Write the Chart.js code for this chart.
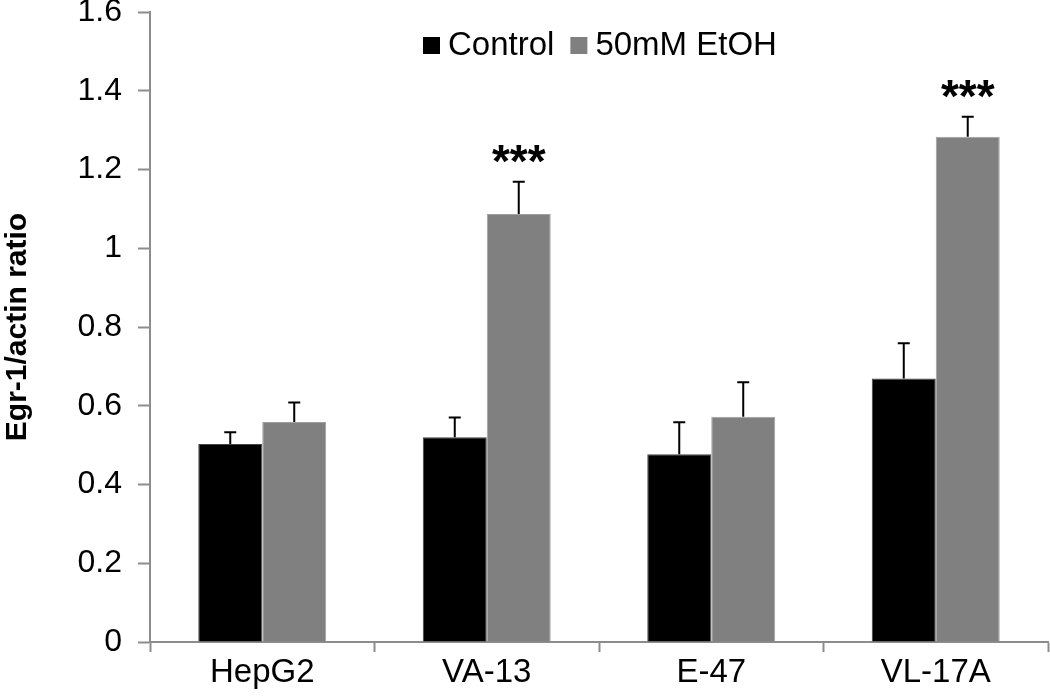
<!DOCTYPE html>
<html>
<head>
<meta charset="utf-8">
<script src="https://cdn.jsdelivr.net/npm/chart.js@4.4.1/dist/chart.umd.min.js"></script>
<style>
  body { margin: 0; background: #fff; }
  #wrap { width: 1050px; height: 700px; position: relative; }
</style>
</head>
<body>
<div id="wrap"><canvas id="grafico"></canvas></div>
<script>
const categories = ["HepG2", "VA-13", "E-47", "VL-17A"];
const control = [0.503, 0.520, 0.477, 0.669];
const controlErr = [0.030, 0.050, 0.081, 0.090];
const etoh = [0.559, 1.087, 0.572, 1.283];
const etohErr = [0.049, 0.082, 0.088, 0.051];
const signif = ["", "***", "", "***"];
const seriesNames = ["Control", "50mM EtOH"];

const FONT = "'Liberation Sans', Arial, sans-serif";
const axisGrey = '#8c8c8c';

// error bars (upper only) + significance stars
const errorBars = {
    id: 'errorBars',
    afterDatasetsDraw(chart) {
        const ctx = chart.ctx;
        const y = chart.scales.y;
        const errs = [controlErr, etohErr];
        ctx.save();
        ctx.strokeStyle = '#000';
        ctx.lineWidth = 2;
        chart.data.datasets.forEach((ds, i) => {
            chart.getDatasetMeta(i).data.forEach((bar, j) => {
                const top = y.getPixelForValue(ds.data[j] + errs[i][j]);
                ctx.beginPath();
                ctx.moveTo(bar.x, bar.y);
                ctx.lineTo(bar.x, top);
                ctx.moveTo(bar.x - 6, top);
                ctx.lineTo(bar.x + 6, top);
                ctx.stroke();
            });
        });
        // stars over the EtOH bars
        ctx.fillStyle = '#000';
        ctx.font = 'bold 46px ' + FONT;
        ctx.textAlign = 'center';
        ctx.textBaseline = 'middle';
        chart.getDatasetMeta(1).data.forEach((bar, j) => {
            if (!signif[j]) return;
            const top = y.getPixelForValue(etoh[j] + etohErr[j]);
            ctx.fillText(signif[j], bar.x, top - 17);
        });
        ctx.restore();
    }
};

// legend drawn inside the plot, like the original
const innerLegend = {
    id: 'innerLegend',
    afterDraw(chart) {
        const ctx = chart.ctx;
        ctx.save();
        ctx.font = '33px ' + FONT;
        ctx.textBaseline = 'middle';
        ctx.textAlign = 'left';
        let x = 423;
        const cy = 45;
        chart.data.datasets.forEach((ds, i) => {
            ctx.fillStyle = ds.backgroundColor;
            ctx.fillRect(x, cy - 8, 17, 17);
            x += 25;
            ctx.fillStyle = '#000';
            ctx.fillText(seriesNames[i], x, cy + 1);
            x += ctx.measureText(seriesNames[i]).width + 16;
        });
        ctx.restore();
    }
};

new Chart(document.getElementById('grafico').getContext('2d'), {
    type: 'bar',
    data: {
        labels: categories,
        datasets: [{
            label: seriesNames[0],
            data: control,
            backgroundColor: '#000000',
            borderColor: '#444444',
            borderWidth: 1,
            categoryPercentage: 0.57,
            barPercentage: 1.0
        }, {
            label: seriesNames[1],
            data: etoh,
            backgroundColor: '#808080',
            borderColor: '#a0a0a0',
            borderWidth: 1,
            categoryPercentage: 0.57,
            barPercentage: 1.0
        }]
    },
    options: {
        responsive: true,
        maintainAspectRatio: false,
        animation: false,
        layout: { padding: { top: 12, right: 2, left: 0, bottom: 0 } },
        plugins: {
            legend: { display: false },
            tooltip: { enabled: false }
        },
        scales: {
            y: {
                min: 0,
                max: 1.6,
                ticks: {
                    stepSize: 0.2,
                    color: '#000',
                    padding: 16,
                    font: { family: FONT, size: 32 },
                    callback: v => String(Math.round(v * 10) / 10)
                },
                grid: {
                    drawOnChartArea: false,
                    drawTicks: true,
                    tickLength: 12,
                    tickWidth: 2,
                    color: axisGrey
                },
                border: { color: axisGrey, width: 2 },
                title: {
                    display: true,
                    text: 'Egr-1/actin ratio',
                    color: '#000',
                    padding: { top: 0, bottom: 4 },
                    font: { family: FONT, size: 30, weight: 'bold' }
                },
                afterFit(scale) {
                    scale.width = 150;
                    scale.paddingTop = 0;
                    scale.paddingBottom = 0;
                }
            },
            x: {
                ticks: {
                    color: '#000',
                    padding: 1,
                    font: { family: FONT, size: 33 }
                },
                grid: {
                    drawOnChartArea: false,
                    drawTicks: true,
                    tickLength: 10,
                    tickWidth: 2,
                    color: axisGrey,
                    offset: true
                },
                border: { color: axisGrey, width: 2 },
                afterFit(scale) {
                    scale.height = 58;
                    scale.paddingLeft = 0;
                    scale.paddingRight = 0;
                }
            }
        }
    },
    plugins: [errorBars, innerLegend]
});
</script>
</body>
</html>
